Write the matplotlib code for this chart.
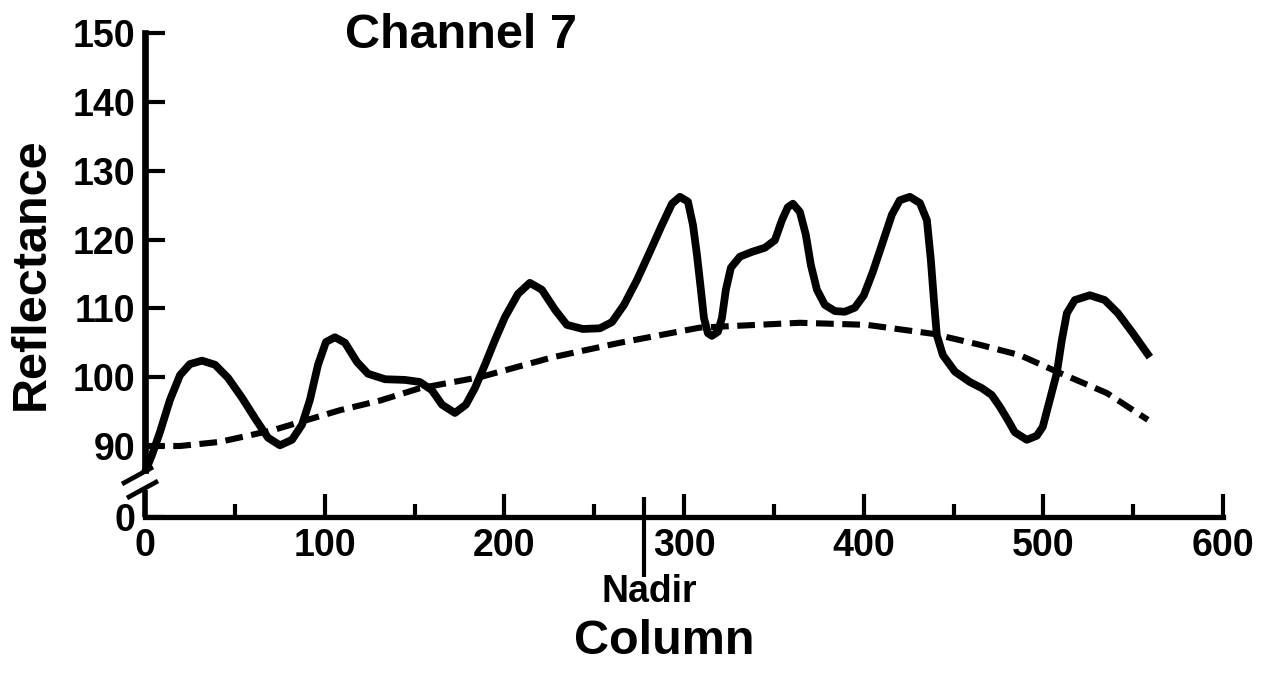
import matplotlib
matplotlib.use("Agg")
import matplotlib.pyplot as plt

plt.rcParams['font.family'] = ['Liberation Sans', 'DejaVu Sans']
plt.rcParams['font.weight'] = 'bold'

# ---- data ----
column = [0, 3.9, 8.3, 13.9, 19.5, 25.0, 31.7, 39.0, 46.2, 54.0, 61.8, 68.5, 75.1, 81.8,
          87.4, 91.8, 96.3, 100.7, 105.7, 111.3, 118.0, 124.1, 133.6, 144.7, 153.0, 159.7,
          165.3, 172.5, 178.6, 183.6, 189.2, 194.8, 200.3, 207.6, 214.2, 220.9, 228.2,
          234.8, 243.7, 253.2, 259.9, 266.6, 273.8, 281.0, 287.7, 293.3, 297.7, 302.2,
          305.0, 307.2, 309.4, 311.1, 313.3, 315.5, 318.9, 321.1, 323.3, 326.1, 331.1,
          337.8, 345.0, 350.6, 354.5, 357.8, 360.6, 364.5, 367.8, 370.6, 374.0, 378.4,
          384.0, 389.5, 395.1, 400.1, 405.1, 410.1, 415.7, 420.1, 425.7, 431.3, 435.2,
          437.4, 439.1, 440.7, 444.1, 450.8, 459.1, 465.8, 471.3, 475.8, 480.2, 484.1,
          490.8, 496.4, 499.7, 503.6, 507.5, 510.3, 513.1, 517.5, 525.9, 534.2, 541.5,
          549.8, 559.3]
reflectance = [86.2, 88.7, 92.0, 96.7, 100.3, 101.9, 102.4, 101.8, 99.9, 97.0, 93.8, 91.2,
               90.1, 90.9, 93.1, 96.7, 101.8, 105.1, 105.8, 105.0, 102.2, 100.5, 99.7, 99.6,
               99.3, 98.1, 96.0, 94.8, 96.0, 98.4, 101.8, 105.4, 108.7, 112.1, 113.7, 112.7,
               109.8, 107.6, 107.0, 107.1, 108.0, 110.5, 114.1, 118.2, 122.1, 125.2, 126.2,
               125.5, 122.1, 117.8, 112.7, 108.6, 106.4, 106.0, 106.6, 108.6, 112.7, 115.9,
               117.5, 118.2, 118.8, 119.9, 122.8, 124.7, 125.2, 124.0, 120.7, 116.3, 112.7,
               110.5, 109.6, 109.5, 110.1, 111.9, 115.3, 119.2, 123.6, 125.7, 126.2, 125.3,
               122.8, 117.0, 111.2, 106.1, 103.2, 100.8, 99.3, 98.4, 97.4, 95.7, 93.8, 92.0,
               90.9, 91.5, 92.8, 96.7, 100.6, 105.4, 109.3, 111.2, 111.9, 111.2, 109.3,
               106.4, 102.9]

trend_column = [1.1, 19.5, 41.7, 71.2, 108.5, 130.8, 153.0, 186.4, 227.0, 264.3, 308.8,
                364.5, 401.8, 438.5, 464.7, 486.9, 507.5, 535.3, 558.2]
trend_reflectance = [90.0, 90.0, 90.6, 92.3, 95.2, 96.6, 98.4, 100.0, 102.9, 105.0, 107.2,
                     107.9, 107.6, 106.3, 104.7, 103.2, 100.8, 97.7, 93.8]

x_major = [100, 200, 300, 400, 500, 600]
x_minor = [50, 150, 250, 350, 450, 550]
x_labels = ['100', '200', '300', '400', '500', '600']
y_ticks = [90, 100, 110, 120, 130, 140, 150]
y_labels = ['90', '100', '110', '120', '130', '140', '150']
nadir_column = 278

# ---- layout ----
W, H = 1270, 677
fig = plt.figure(figsize=(W / 100, H / 100), dpi=100)
left_px, right_px, top_px, bottom_px = 145, 1223, 33, 517
ax = fig.add_axes([left_px / W, 1 - bottom_px / H, (right_px - left_px) / W,
                   (bottom_px - top_px) / H])
px_per_unit = (446 - 33) / 60.0
ybot = 150 - (bottom_px - top_px) / px_per_unit
ax.set_xlim(0, 600)
ax.set_ylim(ybot, 150)

def v_at(py):
    return 150 - (py - top_px) / px_per_unit

def x_at(px):
    return (px - left_px) * 600.0 / (right_px - left_px)

ax.plot(column, reflectance, color='black', lw=5.6, solid_capstyle='butt',
        solid_joinstyle='round', clip_on=False, zorder=3)
ax.plot(trend_column, trend_reflectance, color='black', lw=4.4,
        linestyle=(0, (2.9, 1.4)), dash_capstyle='butt', clip_on=False, zorder=2)

for s in ['top', 'right']:
    ax.spines[s].set_visible(False)
ax.spines['bottom'].set_linewidth(3.8)
ax.spines['left'].set_linewidth(4.8)
ax.spines['left'].set_bounds(v_at(470), 150)

# lower stub of broken y axis and break marks
ax.plot([0, 0], [ybot, v_at(490)], color='black', lw=4.0, clip_on=False,
        solid_capstyle='butt')
for (p1, p2) in [((122, 484), (153, 467)), ((127, 498), (158, 481))]:
    ax.plot([x_at(p1[0]), x_at(p2[0])], [v_at(p1[1]), v_at(p2[1])], color='black',
            lw=3.4, clip_on=False, solid_capstyle='butt')

ax.set_xticks([0] + x_major)
ax.set_xticklabels(['0'] + x_labels)
ax.set_xticks(x_minor, minor=True)
ax.tick_params(axis='x', which='major', direction='in', length=16.5, width=3.0,
               labelsize=27, pad=8)
ax.tick_params(axis='x', which='minor', direction='in', length=9.4, width=3.0)
ax.set_yticks([ybot] + y_ticks)
ax.set_yticklabels(['0'] + y_labels)
ax.tick_params(axis='y', direction='in', length=14.4, width=3.0, labelsize=27, pad=7)
for lbl in ax.get_xticklabels() + ax.get_yticklabels():
    lbl.set_fontweight('bold')

# Nadir marker
ax.plot([nadir_column, nadir_column], [v_at(497), v_at(577)], color='black', lw=3.0,
        clip_on=False, solid_capstyle='butt')
ax.text(x_at(649), v_at(592), 'Nadir', ha='center', va='center', fontsize=27,
        fontweight='bold')

fig.text(345 / W, 1 - 35 / H, 'Channel 7', ha='left', va='center', fontsize=35,
         fontweight='bold')
fig.text(31 / W, 1 - 274 / H, 'Reflectance', ha='center', va='center', rotation=90,
         fontsize=35, fontweight='bold')
fig.text(664 / W, 1 - 641 / H, 'Column', ha='center', va='center', fontsize=35,
         fontweight='bold')

fig.savefig('out.png', dpi=100)
